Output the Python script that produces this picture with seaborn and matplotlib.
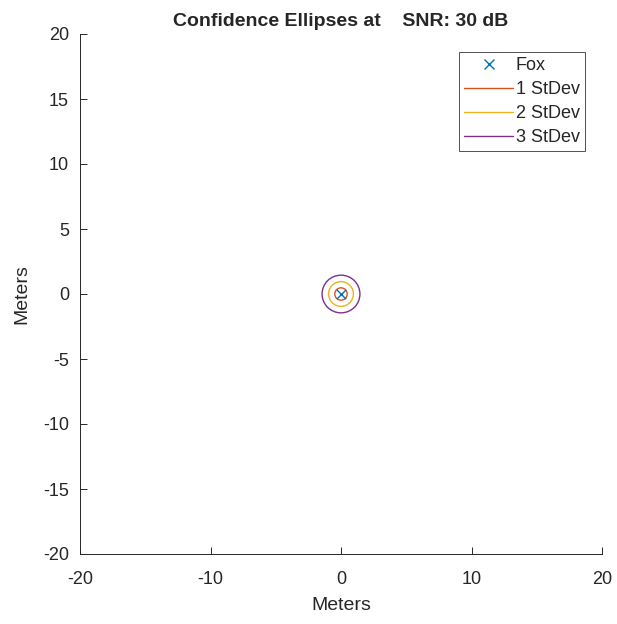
import matplotlib
matplotlib.use("Agg")
import matplotlib.pyplot as plt
import seaborn as sns
import pandas as pd
from matplotlib.patches import Ellipse
from matplotlib.lines import Line2D

# Fox position estimate (meters)
fox_x = [0.0]
fox_y = [0.0]

# confidence ellipse widths/heights (full diameters, meters) per std-dev level
ellipse_labels = ["1 StDev", "2 StDev", "3 StDev"]
ellipse_width = [0.95, 1.9, 2.9]
ellipse_height = [0.95, 1.9, 2.9]
ellipse_colors = ["#D95319", "#EDB120", "#7E2F8E"]

sns.set_style("ticks")
plt.rcParams['font.family'] = ['Liberation Sans', 'DejaVu Sans']
plt.rcParams['axes.unicode_minus'] = False

fig = plt.figure(figsize=(6.17, 6.24), dpi=100)
ax = fig.add_axes([80 / 617, 70 / 624, 522 / 617, 520 / 624])

df = pd.DataFrame({"x": fox_x, "y": fox_y})
sns.scatterplot(data=df, x="x", y="y", marker="x", color="#0072BD", s=45,
                linewidth=1.0, ax=ax, zorder=3)

for w, h, c in zip(ellipse_width, ellipse_height, ellipse_colors):
    ax.add_patch(Ellipse((fox_x[0], fox_y[0]), w, h, fill=False, edgecolor=c, linewidth=1.0))

ax.set_xlim(-20, 20)
ax.set_ylim(-20, 20)
ax.set_xticks([-20, -10, 0, 10, 20])
ax.set_yticks(range(-20, 21, 5))
ax.set_xlabel("Meters", fontsize=14, color="#262626", labelpad=7)
ax.set_ylabel("Meters", fontsize=14, color="#262626", labelpad=9)
ax.set_title("Confidence Ellipses at    SNR: 30 dB", fontsize=14, fontweight="bold", pad=6)
ax.tick_params(direction="in", length=5, labelsize=13, colors="#262626", width=0.7)
ax.tick_params(axis="x", pad=12)
ax.tick_params(axis="y", pad=8)
for s in ["top", "right"]:
    ax.spines[s].set_visible(False)
for s in ["left", "bottom"]:
    ax.spines[s].set_color("#262626")
    ax.spines[s].set_linewidth(0.7)

handles = [Line2D([], [], marker="x", color="#0072BD", linestyle="none", markersize=6.5)]
handles += [Line2D([], [], color=c, linewidth=1.0) for c in ellipse_colors]
leg = ax.legend(handles, ["Fox"] + ellipse_labels, loc="upper right",
                bbox_to_anchor=(585 / 617, 1 - 52 / 624), bbox_transform=fig.transFigure,
                fontsize=13, frameon=True, fancybox=False, handlelength=2.7,
                handletextpad=0.15, borderpad=0.3, labelspacing=0.38, borderaxespad=0)
leg.get_frame().set_edgecolor("#262626")
leg.get_frame().set_linewidth(0.7)

fig.savefig("out.png", dpi=100)
